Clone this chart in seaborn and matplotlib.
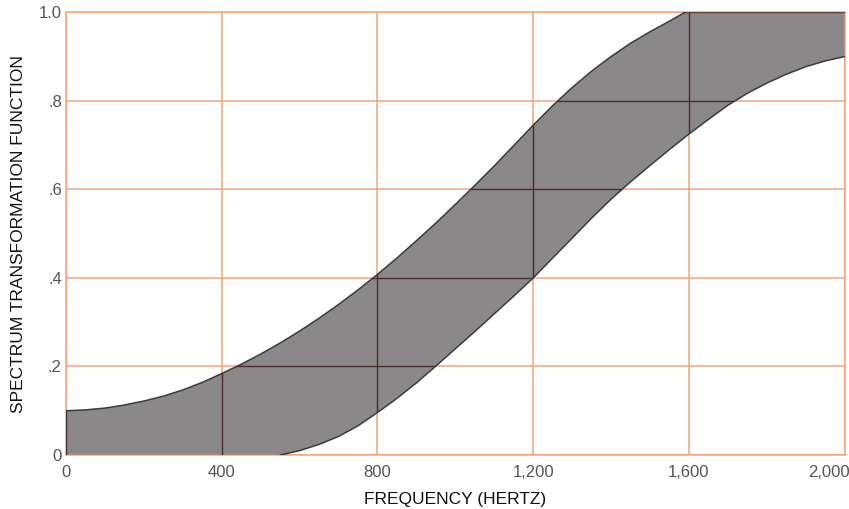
import matplotlib
matplotlib.use("Agg")
import matplotlib.pyplot as plt
import matplotlib.transforms as mtransforms
import seaborn as sns
import pandas as pd

# Upper edge of the band (frequency in Hz, transformation value)
upper_freq = [0, 50, 100, 150, 200, 250, 300, 350, 400, 450, 500, 550, 600,
              650, 700, 750, 800, 850, 900, 950, 1000, 1050, 1100, 1150, 1200,
              1250, 1300, 1350, 1400, 1450, 1500, 1550, 1590]
upper_val = [0.100, 0.102, 0.106, 0.113, 0.122, 0.133, 0.147, 0.164, 0.184,
             0.205, 0.228, 0.253, 0.280, 0.309, 0.340, 0.373, 0.408, 0.445,
             0.484, 0.524, 0.566, 0.609, 0.653, 0.699, 0.745, 0.789, 0.830,
             0.867, 0.900, 0.930, 0.956, 0.980, 1.0]

# Lower edge of the band
lower_freq = [550, 600, 650, 700, 750, 800, 850, 900, 950, 1000, 1050, 1100,
              1150, 1200, 1250, 1300, 1350, 1400, 1450, 1500, 1550, 1600, 1650,
              1700, 1750, 1800, 1850, 1900, 1950, 2000]
lower_val = [0.0, 0.010, 0.024, 0.042, 0.066, 0.096, 0.128, 0.163, 0.201,
             0.240, 0.279, 0.319, 0.359, 0.400, 0.445, 0.490, 0.535, 0.578,
             0.617, 0.654, 0.690, 0.725, 0.758, 0.790, 0.817, 0.840, 0.860,
             0.877, 0.890, 0.900]

x_ticks = [0, 400, 800, 1200, 1600, 2000]
x_labels = ["0", "400", "800", "1,200", "1,600", "2,000"]
y_ticks = [0, 0.2, 0.4, 0.6, 0.8, 1.0]
y_labels = ["0", ".2", ".4", ".6", ".8", "1.0"]

sns.set_style("white")
plt.rcParams["font.family"] = ["Liberation Sans", "DejaVu Sans"]

grid_orange = "#f2a77a"
band_gray = "#8a8888"
edge_dark = "#3c3c3c"
grid_dark = "#4a2c2c"

fig = plt.figure(figsize=(8.49, 5.09), dpi=100)
ax = fig.add_axes([0.0777, 0.106, 0.9173, 0.870])

# band polygon: along the upper edge, across the top, back along the lower edge
poly_x = [0] + upper_freq + [2000] + lower_freq[::-1] + [0]
poly_y = [0] + upper_val + [1.0] + lower_val[::-1] + [0]
band = ax.fill(poly_x, poly_y, color=band_gray, lw=0, zorder=2)[0]

up_df = pd.DataFrame({"freq": upper_freq, "val": upper_val})
lo_df = pd.DataFrame({"freq": lower_freq, "val": lower_val})
sns.lineplot(data=up_df, x="freq", y="val", ax=ax, color=edge_dark, lw=1.1, zorder=4)
sns.lineplot(data=lo_df, x="freq", y="val", ax=ax, color=edge_dark, lw=1.1, zorder=4)

# orange grid behind the band, dark lines where the grid passes through it
ax.set_axisbelow(True)
ax.grid(True, color=grid_orange, lw=1.1)
for xv in x_ticks:
    ln = ax.axvline(xv, color=grid_dark, lw=1.0, zorder=3)
    ln.set_clip_path(band)
for yv in y_ticks:
    ln = ax.axhline(yv, color=grid_dark, lw=1.0, zorder=3)
    ln.set_clip_path(band)

ax.set_xlim(0, 2000)
ax.set_ylim(0, 1.0)
ax.set_xticks(x_ticks)
ax.set_xticklabels(x_labels)
ax.set_yticks(y_ticks)
ax.set_yticklabels(y_labels)
ax.tick_params(axis="both", length=0, labelsize=12, labelcolor="#555555")
ax.tick_params(axis="x", pad=7)
ax.tick_params(axis="y", pad=3)

# last x label sits inside the figure edge
last = ax.get_xticklabels()[-1]
last.set_transform(last.get_transform() +
                   mtransforms.ScaledTranslation(-16 / 100, 0, fig.dpi_scale_trans))

for side in ["top", "bottom", "left", "right"]:
    ax.spines[side].set_color(grid_orange)
    ax.spines[side].set_linewidth(1.1)

ax.set_xlabel("FREQUENCY (HERTZ)", fontsize=12.5, color="#111111", labelpad=9)
ax.set_ylabel("SPECTRUM TRANSFORMATION FUNCTION", fontsize=12.5, color="#111111",
              labelpad=9)

fig.savefig("out.png", dpi=100)
